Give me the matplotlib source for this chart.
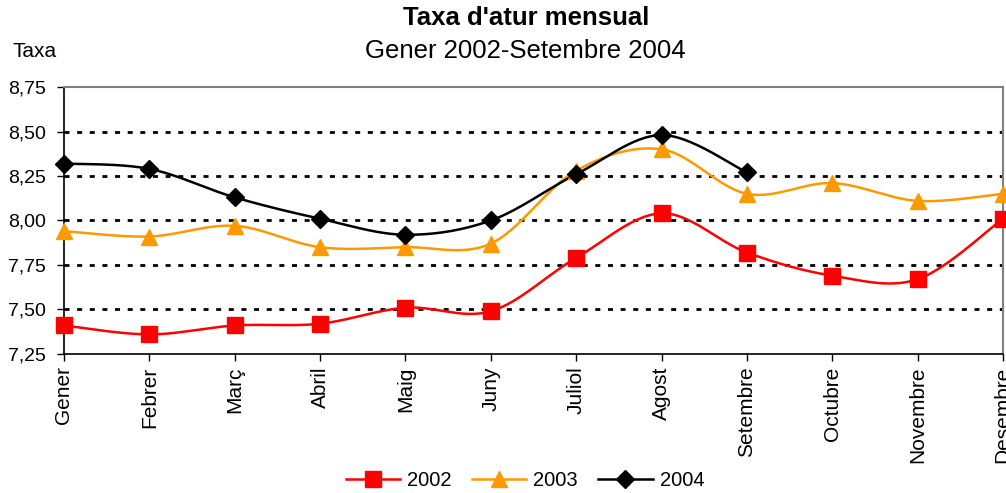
import numpy as np
import matplotlib
matplotlib.use("Agg")
import matplotlib.pyplot as plt

plt.rcParams['font.family'] = ['Liberation Sans', 'DejaVu Sans']

months = ["Gener", "Febrer", "Març", "Abril", "Maig", "Juny", "Juliol",
          "Agost", "Setembre", "Octubre", "Novembre", "Desembre"]
y2002 = [7.41, 7.36, 7.41, 7.42, 7.51, 7.49, 7.79, 8.04, 7.82, 7.69, 7.67, 8.01]
y2003 = [7.94, 7.91, 7.97, 7.85, 7.85, 7.87, 8.28, 8.40, 8.15, 8.21, 8.11, 8.15]
y2004 = [8.32, 8.29, 8.13, 8.01, 7.92, 8.00, 8.26, 8.48, 8.27]
yticks = [7.25, 7.50, 7.75, 8.00, 8.25, 8.50, 8.75]
ytick_labels = ["7,25", "7,50", "7,75", "8,00", "8,25", "8,50", "8,75"]


def smooth(xs, ys, n=30):
    """Catmull-Rom style Bezier smoothing (like spreadsheet smoothed lines)."""
    xs = np.asarray(xs, float)
    ys = np.asarray(ys, float)
    px, py = [], []
    m = len(xs)
    for i in range(m - 1):
        x0, y0 = (xs[i - 1], ys[i - 1]) if i > 0 else (xs[i], ys[i])
        x1, y1 = xs[i], ys[i]
        x2, y2 = xs[i + 1], ys[i + 1]
        x3, y3 = (xs[i + 2], ys[i + 2]) if i + 2 < m else (xs[i + 1], ys[i + 1])
        c1x, c1y = x1 + (x2 - x0) / 6, y1 + (y2 - y0) / 6
        c2x, c2y = x2 - (x3 - x1) / 6, y2 - (y3 - y1) / 6
        t = np.linspace(0, 1, n, endpoint=(i == m - 2))
        a = (1 - t) ** 3
        b = 3 * (1 - t) ** 2 * t
        c = 3 * (1 - t) * t ** 2
        d = t ** 3
        px.append(a * x1 + b * c1x + c * c2x + d * x2)
        py.append(a * y1 + b * c1y + c * c2y + d * y2)
    return np.concatenate(px), np.concatenate(py)


fig = plt.figure(figsize=(10.06, 4.93), dpi=100)
ax = fig.add_axes([0.0636, 0.282, 0.9334, 0.5415])

series = [
    ("2002", y2002, "#FF0000", "s", 11),
    ("2003", y2003, "#FF9900", "^", 12),
    ("2004", y2004, "#000000", "D", 9.5),
]
handles = []
for label, ys, col, mk, ms in series:
    xs = np.arange(len(ys))
    sx, sy = smooth(xs, ys)
    ax.plot(sx, sy, color=col, lw=1.8, clip_on=False, zorder=3)
    ax.plot(xs, ys, linestyle='none', marker=mk, color=col, markersize=ms,
            markeredgecolor=col, clip_on=False, zorder=4)
    h, = ax.plot([], [], color=col, lw=1.8, marker=mk, markersize=ms,
                 markeredgecolor=col, label=label)
    handles.append(h)

ax.set_xlim(0, len(months) - 1)
ax.set_ylim(7.25, 8.75)
ax.set_xticks(np.arange(len(months)))
ax.set_xticklabels(months, rotation=90, fontsize=15)
ax.set_yticks(yticks)
ax.set_yticklabels(ytick_labels, fontsize=14)
for yv in yticks[1:-1]:
    ax.axhline(yv, color='black', lw=2.0, linestyle=(0, (1.8, 2.75)), zorder=1)

ax.tick_params(axis='both', direction='out', length=5, width=1, colors='black')
ax.tick_params(axis='y', pad=8)
ax.tick_params(axis='x', pad=4)
for s in ['left', 'bottom']:
    ax.spines[s].set_color('black')
    ax.spines[s].set_linewidth(1.2)
for s in ['top', 'right']:
    ax.spines[s].set_color('#808080')
    ax.spines[s].set_linewidth(1.5)

fig.text(0.523, 0.963, "Taxa d'atur mensual", ha='center', va='center',
         fontsize=18.5, fontweight='bold')
fig.text(0.522, 0.896, "Gener 2002-Setembre 2004", ha='center', va='center',
         fontsize=18.5)
fig.text(0.012, 0.895, "Taxa", ha='left', va='center', fontsize=15)

fig.legend(handles=handles, loc='center', bbox_to_anchor=(0.522, 0.026),
           ncol=3, frameon=False, fontsize=14.5, handlelength=2.7,
           columnspacing=1.0, handletextpad=0.35)

fig.savefig("out.png", dpi=100)
